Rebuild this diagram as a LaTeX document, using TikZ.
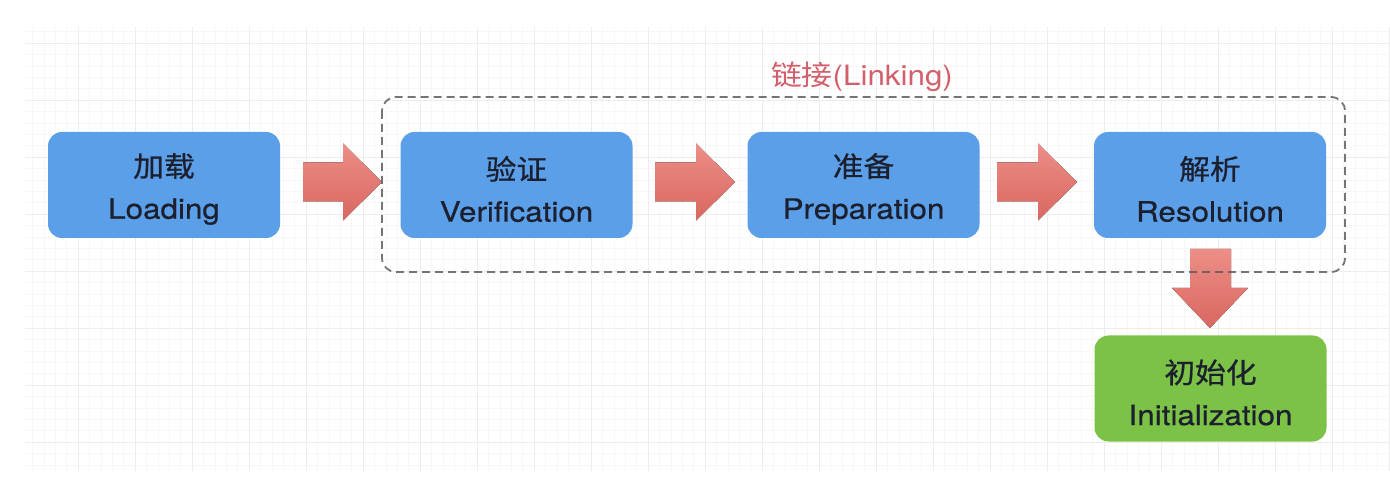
\documentclass[tikz,border=0pt]{standalone}
\usepackage{fontspec}
\setmainfont{TeX Gyre Heros}[FakeStretch=1.12, FakeBold=0.6]
\newfontfamily\cjk{Noto Sans CJK SC}[FakeStretch=1.1, FakeBold=0.6]
\newfontfamily\lblfont{TeX Gyre Heros}[FakeStretch=1.12]
\newfontfamily\lblcjk{Noto Sans CJK SC}[FakeStretch=1.1]
\definecolor{boxblue}{HTML}{5A9FE8}
\definecolor{boxgreen}{HTML}{7BC246}
\definecolor{txtdark}{HTML}{1C1F2E}
\definecolor{arrowtop}{HTML}{EC8E87}
\definecolor{arrowbot}{HTML}{D96760}
\definecolor{linkred}{HTML}{D25F6C}
\definecolor{dashgray}{HTML}{5E5E5E}
\tikzset{
  stagebox/.style={rectangle, rounded corners=14pt, fill=boxblue,
    minimum width=232pt, minimum height=106pt, inner sep=0pt},
  initbox/.style={stagebox, fill=boxgreen},
  stagetext/.style={align=center, inner sep=0pt, text=txtdark,
    font=\fontsize{28}{42}\selectfont},
  blockarrow/.style={top color=arrowtop, bottom color=arrowbot, draw=none},
  linkframe/.style={draw=dashgray, draw opacity=0.85, line width=1.8pt, dash pattern=on 8pt off 5pt, rounded corners=14pt}
}
\begin{document}
\begin{tikzpicture}[x=1pt,y=-1pt]
\useasboundingbox (0,0) rectangle (1390,494);
\fill[white] (0,0) rectangle (1390,494);
% background grid
\begin{scope}
\clip (25,28) rectangle (1390,470);
\draw[gray!6, line width=0.5pt, step=11.4pt, shift={(21pt,-43pt)}] (-20,-40) grid (1400,460);
\draw[gray!14, line width=0.7pt, step=57pt, shift={(21pt,-43pt)}] (-20,-40) grid (1400,460);
\end{scope}
% stages
\node[stagebox] (load) at (164,185) {};
\node[stagebox] (verif) at (516.5,185) {};
\node[stagebox] (prep) at (863.5,185) {};
\node[stagebox] (resol) at (1210,185) {};
\node[initbox] (init) at (1210.5,388.5) {};
\node[stagetext] (loadt) at ([yshift=-4pt]load.center) {{\cjk 加载}\\Loading};
\node[stagetext] (verift) at ([yshift=-4pt]verif.center) {{\cjk 验证}\\Verification};
\node[stagetext] (prept) at ([yshift=-4pt]prep.center) {{\cjk 准备}\\Preparation};
\node[stagetext] (resolt) at ([yshift=-4pt]resol.center) {{\cjk 解析}\\Resolution};
\node[stagetext] (initt) at ([yshift=-4pt]init.center) {{\cjk 初始化}\\Initialization};
% block arrows (tail x, tip x, centre y)
\foreach \tx/\hx/\cy in {303/382/182, 655/735/182, 997/1077/182} {
  \fill[blockarrow] (\tx,\cy-19.5) -- ({\hx-39},\cy-19.5) -- ({\hx-39},\cy-38.5) -- (\hx,\cy)
    -- ({\hx-39},\cy+38.5) -- ({\hx-39},\cy+19.5) -- (\tx,\cy+19.5) -- cycle;
}
\fill[blockarrow] (1190,249) -- (1231,249) -- (1231,288) -- (1248,288) -- (1210,328)
  -- (1172,288) -- (1190,288) -- cycle;
% linking frame
\draw[linkframe] (382,97) rectangle (1345,272);
\node[text=linkred, inner sep=0pt, font=\fontsize{28}{32}\selectfont] (linklbl) at (862,77) {{\lblcjk 链接}\lblfont(Linking)};
\end{tikzpicture}
\end{document}
